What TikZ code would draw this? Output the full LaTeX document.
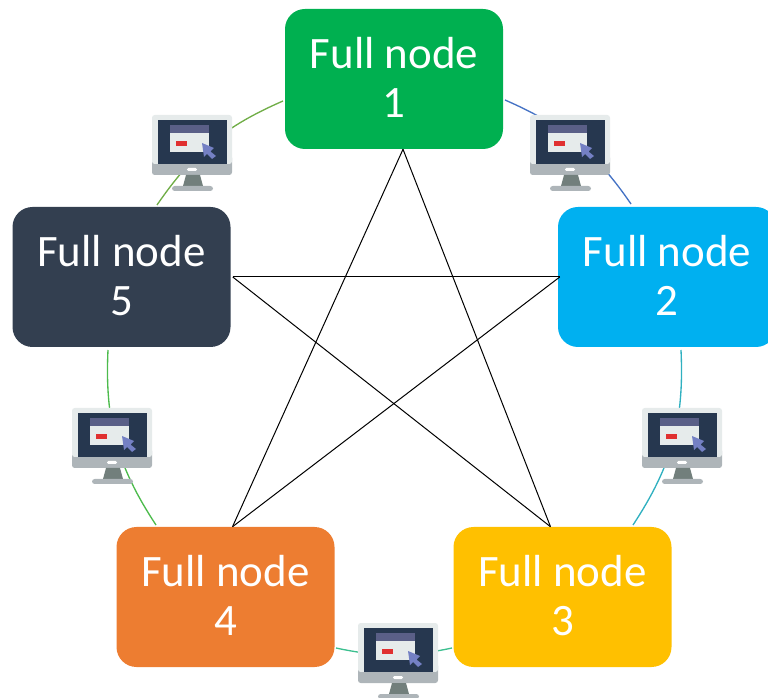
\documentclass[tikz,border=0pt]{standalone}
\usepackage{fontspec}
\setmainfont{Carlito}
\definecolor{nodegreen}{HTML}{00B050}
\definecolor{nodeblue}{HTML}{00B0F0}
\definecolor{nodeyellow}{HTML}{FFC000}
\definecolor{nodeorange}{HTML}{ED7D31}
\definecolor{nodenavy}{HTML}{333F50}
\definecolor{arcolive}{HTML}{70AD47}
\definecolor{arcblue}{HTML}{4472C4}
\definecolor{arcteal}{HTML}{2FB0C0}
\definecolor{arcmint}{HTML}{3CBF8F}
\definecolor{arcgreen}{HTML}{4CBB4C}
\definecolor{bezel}{HTML}{E6EBEB}
\definecolor{band}{HTML}{AEB5B9}
\definecolor{screen}{HTML}{26374F}
\definecolor{titlebar}{HTML}{5A5F87}
\definecolor{pointer}{HTML}{7480C4}
\definecolor{stand}{HTML}{727F7C}
\definecolor{redbtn}{HTML}{E03030}

\begin{document}
\begin{tikzpicture}[
x=0.75pt, y=-0.75pt,
fullnode/.style={draw=none, rounded corners=15pt, minimum width=163.5pt, minimum height=105pt,
  align=center, text=white, inner sep=0pt, text depth=3pt, font=\fontsize{33.7}{36.8}\selectfont},
link/.style={line width=0.75pt},
arc/.style={line width=1pt},
monitor/.pic={
  \fill[band, rounded corners=2pt] (0,40) rectangle (80,60);
  \fill[bezel, rounded corners=2pt] (0,0) -- (80,0) -- (80,49) -- (0,49) -- cycle;
  \fill[band] (0,49) rectangle (80,54);
  \fill[screen] (6,5) rectangle (75,49);
  \fill[bezel] (18,10) rectangle (57,37);
  \fill[titlebar] (18,10) rectangle (57,18);
  \fill[redbtn] (24,26) rectangle (35,31);
  \fill[pointer] (50,28) -- (62,33) -- (58.5,36.5) -- (64,41) -- (60,44) -- (55,39) -- (52,42) -- cycle;
  \fill[white, rounded corners=1pt] (35,53) rectangle (45,56);
  \fill[stand] (34,60) -- (48,60) -- (51,71) -- (31,71) -- cycle;
  \fill[band, rounded corners=2pt] (20,71) rectangle (61,76);
}
]
\clip (0,0) rectangle (768,698);

%Nodes
\node[fullnode, fill=nodegreen]  (n1) at (394,79)    {Full node\\1};
\node[fullnode, fill=nodeblue]   (n2) at (667,277)   {Full node\\2};
\node[fullnode, fill=nodeyellow] (n3) at (562.5,597) {Full node\\3};
\node[fullnode, fill=nodeorange] (n4) at (225.5,597) {Full node\\4};
\node[fullnode, fill=nodenavy]   (n5) at (121.5,277) {Full node\\5};

%Star corners
\coordinate (s1) at ([xshift=6.75pt]n1.south);
\coordinate (s2) at ([xshift=1.5pt]n2.west);
\coordinate (s3) at ([xshift=-9pt]n3.north);
\coordinate (s4) at ([xshift=5.25pt]n4.north);
\coordinate (s5) at ([xshift=1.5pt]n5.east);

%Arc ends
\coordinate (a1) at (283,101);
\coordinate (a2) at (157,205);
\coordinate (b1) at (505,100);
\coordinate (b2) at (631,204);
\coordinate (c1) at (681,350);
\coordinate (c2) at (633,525);
\coordinate (d1) at (452,648);
\coordinate (d2) at (336,648);
\coordinate (e1) at (156,525);
\coordinate (e2) at (108,350);

%Lines
\draw[link] (s1) -- (s4);
\draw[link] (s1) -- (s3);
\draw[link] (s5) -- (s2);
\draw[link] (s5) -- (s3);
\draw[link] (s2) -- (s4);

\draw[arc, arcolive] (a1) to[bend right=16] (a2);
\draw[arc, arcblue]  (b1) to[bend left=16]  (b2);
\draw[arc, arcteal]  (c1) to[bend left=18]  (c2);
\draw[arc, arcmint]  (d1) to[bend left=12]  (d2);
\draw[arc, arcgreen] (e1) to[bend left=18]  (e2);

%Monitors
\pic at (152,115) {monitor};
\pic at (530,115) {monitor};
\pic at (642,408) {monitor};
\pic at (358,623) {monitor};
\pic at (72,408)  {monitor};
\end{tikzpicture}
\end{document}
